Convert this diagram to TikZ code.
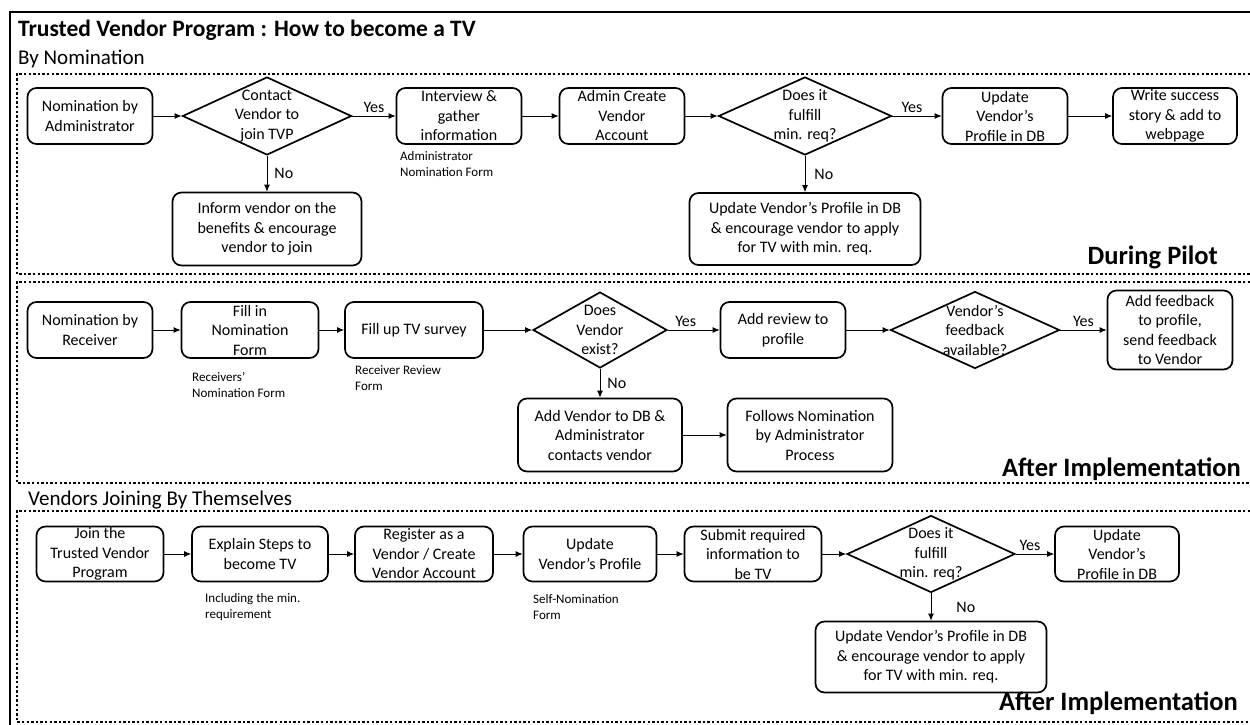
\documentclass[tikz,border=0pt]{standalone}
\usepackage{fontspec}
\setmainfont{Carlito}
\usepackage{tikz}
\usetikzlibrary{shapes.geometric,arrows.meta}
\newcommand{\bodyfont}{\fontsize{16}{19.5}\selectfont}
\newcommand{\notefont}{\fontsize{13}{15.5}\selectfont}
\newcommand{\headfont}{\fontsize{21}{25}\selectfont}
\newcommand{\titlefont}{\fontsize{23.5}{28}\selectfont\bfseries}
\newcommand{\phasefont}{\fontsize{26.5}{30}\selectfont\bfseries}
\tikzset{
  box/.style 2 args={draw, rounded corners=9pt, line width=1.7pt, align=center,
    font=\bodyfont, inner sep=1pt, minimum width=#1, minimum height=#2},
  dia/.style 2 args={draw, diamond, line width=1.7pt, inner sep=0pt,
    minimum width=#1, minimum height=#2},
  dtxt/.style={font=\bodyfont, align=center, inner sep=0pt},
  flow/.style={line width=0.9pt, -{Latex[length=7pt,width=6pt]}},
  secframe/.style={line width=2.4pt, dash pattern=on 2.4pt off 2.2pt},
  note/.style={font=\notefont, align=left, anchor=west, inner sep=0pt},
  ans/.style={font=\bodyfont, inner sep=3pt}
}
\newcommand{\PhaseFrame}[2]{%
  \draw[secframe] (1250,#1) -- (17,#1) -- (17,#2) -- (1250,#2);
}

\begin{document}
\begin{tikzpicture}[x=1pt, y=-1pt]
  \useasboundingbox (0,0) rectangle (1250,725);
  \draw[line width=2pt] (10,725) -- (10,12) -- (1250,12);

  \node[font=\titlefont, anchor=base west, inner sep=0pt] (title) at (18,37) {Trusted Vendor Program : How to become a TV};
  \node[font=\headfont, anchor=base west, inner sep=0pt] (hnom) at (18,65) {By Nomination};
  \node[font=\headfont, anchor=base west, inner sep=0pt] (hself) at (28,505) {Vendors Joining By Themselves};

  \PhaseFrame{74}{274}
  \PhaseFrame{282}{483}
  \PhaseFrame{511}{722}

  \node[font=\phasefont, anchor=base east, inner sep=0pt] (pilot) at (1218,264) {During Pilot};
  \node[font=\phasefont, anchor=base east, inner sep=0pt] (impl1) at (1241,476) {After Implementation};
  \node[font=\phasefont, anchor=base east, inner sep=0pt] (impl2) at (1238,710) {After Implementation};

  % by administrator
  \node[box={125pt}{56pt}] (a1) at (90,116) {Nomination by\\Administrator};
  \node[dia={169pt}{78pt}, label={[dtxt]center:Contact\\Vendor to\\join TVP}] (c1) at (267,116) {};
  \node[box={125pt}{56pt}] (a2) at (459,116) {Interview \&\\gather\\information};
  \node[box={125pt}{56pt}] (a3) at (622,116) {Admin Create\\Vendor\\Account};
  \node[dia={173pt}{78pt}, label={[dtxt]center:Does it\\fulfill\\min. req?}] (c2) at (805,116) {};
  \node[box={125pt}{56pt}] (a4) at (1005,116) {Update\\Vendor’s\\Profile in DB};
  \node[box={124pt}{56pt}] (a5) at (1175,116) {Write success\\story \& add to\\webpage};
  \node[box={189pt}{73pt}] (a6) at (267,229) {Inform vendor on the\\benefits \& encourage\\vendor to join};
  \node[box={231pt}{72pt}] (a7) at (805,229) {Update Vendor’s Profile in DB\\\& encourage vendor to apply\\for TV with min. req.};
  \node[note] (n1) at (400,164) {Administrator\\Nomination Form};

  \draw[flow] (a1.east) -- (c1.west);
  \draw[flow] (c1.east) -- node[ans, above] {Yes} (a2.west);
  \draw[flow] (c1.south) -- node[ans, right, xshift=4pt] {No} (a6.north);
  \draw[flow] (a2.east) -- (a3.west);
  \draw[flow] (a3.east) -- (c2.west);
  \draw[flow] (c2.east) -- node[ans, above, xshift=-5pt] {Yes} (a4.west);
  \draw[flow] (c2.south) -- node[ans, right, xshift=6pt] {No} (a7.north);
  \draw[flow] (a4.east) -- (a5.west);

  % by receiver
  \node[box={125pt}{56pt}] (b1) at (90,330) {Nomination by\\Receiver};
  \node[box={137pt}{56pt}] (b2) at (250,330) {Fill in\\Nomination\\Form};
  \node[box={138pt}{56pt}] (b3) at (414,330) {Fill up TV survey};
  \node[dia={134pt}{76pt}, label={[dtxt]center:Does\\Vendor\\exist?}] (d1) at (600,330) {};
  \node[box={125pt}{56pt}] (b4) at (783,330) {Add review to\\profile};
  \node[dia={169pt}{77pt}, label={[dtxt]center:Vendor’s\\feedback\\available?}] (d2) at (975,330) {};
  \node[box={125pt}{79pt}] (b5) at (1170,330) {Add feedback\\to profile,\\send feedback\\to Vendor};
  \node[box={164pt}{73pt}] (b6) at (600,435) {Add Vendor to DB \&\\Administrator\\contacts vendor};
  \node[box={165pt}{73pt}] (b7) at (810,435) {Follows Nomination\\by Administrator\\Process};
  \node[note] (n2) at (192,385) {Receivers’\\Nomination Form};
  \node[note] (n3) at (355,378) {Receiver Review\\Form};

  \draw[flow] (b1.east) -- (b2.west);
  \draw[flow] (b2.east) -- (b3.west);
  \draw[flow] (b3.east) -- (d1.west);
  \draw[flow] (d1.east) -- node[ans, above, xshift=-8pt] {Yes} (b4.west);
  \draw[flow] (d1.south) -- node[ans, right, xshift=4pt] {No} (b6.north);
  \draw[flow] (b4.east) -- (d2.west);
  \draw[flow] (d2.east) -- node[ans, above] {Yes} (b5.west);
  \draw[flow] (b6.east) -- (b7.west);

  % vendors themselves
  \node[box={127pt}{55pt}] (e1) at (100,554) {Join the\\Trusted Vendor\\Program};
  \node[box={136pt}{55pt}] (e2) at (260,554) {Explain Steps to\\become TV};
  \node[box={138pt}{55pt}] (e3) at (424,554) {Register as a\\Vendor / Create\\Vendor Account};
  \node[box={133pt}{55pt}] (e4) at (590,554) {Update\\Vendor’s Profile};
  \node[box={137pt}{55pt}] (e5) at (753,554) {Submit required\\information to\\be TV};
  \node[dia={168pt}{77pt}, label={[dtxt]center:Does it\\fulfill\\min. req?}] (d3) at (931,554) {};
  \node[box={124pt}{55pt}] (e6) at (1117,554) {Update\\Vendor’s\\Profile in DB};
  \node[box={231pt}{71pt}] (e7) at (931,657) {Update Vendor’s Profile in DB\\\& encourage vendor to apply\\for TV with min. req.};
  \node[note] (n4) at (205,607) {Including the min.\\requirement};
  \node[note] (n5) at (533,607) {Self-Nomination\\Form};

  \draw[flow] (e1.east) -- (e2.west);
  \draw[flow] (e2.east) -- (e3.west);
  \draw[flow] (e3.east) -- (e4.west);
  \draw[flow] (e4.east) -- (e5.west);
  \draw[flow] (e5.east) -- (d3.west);
  \draw[flow] (d3.east) -- node[ans, above, xshift=-5pt] {Yes} (e6.west);
  \draw[flow] (d3.south) -- node[ans, right, xshift=22pt] {No} (e7.north);
\end{tikzpicture}
\end{document}
